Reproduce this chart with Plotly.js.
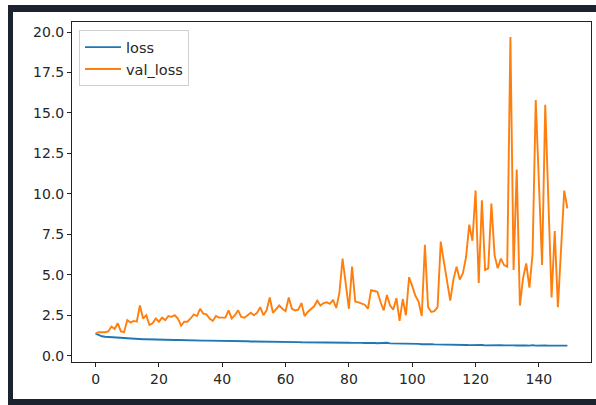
<!DOCTYPE html>
<html>
<head>
<meta charset="utf-8">
<script src="https://cdn.plot.ly/plotly-3.0.1.min.js"></script>
<style>
  html, body { margin: 0; padding: 0; background: #ffffff; }
  #frame { position: absolute; left: 8px; top: 5px; width: 588px; height: 400px; background: #1b242e; }
  #inner { position: absolute; left: 13px; top: 12px; width: 583px; height: 387px; background: #ffffff; }
  #plot { position: absolute; left: 0; top: 0; width: 596px; height: 405px; }
</style>
</head>
<body>
<div id="frame"></div>
<div id="inner"></div>
<div id="plot"></div>
<script>
// Epoch indices 0..149
const epochs = Array.from({length: 150}, (_, i) => i);

const loss = [
  1.36, 1.26, 1.20, 1.17, 1.15, 1.14, 1.13, 1.12, 1.10, 1.09,
  1.08, 1.06, 1.05, 1.04, 1.03, 1.02, 1.02, 1.01, 1.00, 1.00,
  0.99, 0.99, 0.98, 0.98, 0.97, 0.97, 0.97, 0.96, 0.96, 0.95,
  0.95, 0.95, 0.94, 0.94, 0.93, 0.93, 0.93, 0.92, 0.92, 0.92,
  0.91, 0.91, 0.91, 0.90, 0.90, 0.90, 0.89, 0.89, 0.89, 0.88,
  0.88, 0.88, 0.87, 0.87, 0.87, 0.86, 0.86, 0.86, 0.86, 0.85,
  0.85, 0.85, 0.84, 0.84, 0.84, 0.83, 0.83, 0.84, 0.83, 0.82,
  0.83, 0.82, 0.82, 0.81, 0.82, 0.81, 0.81, 0.80, 0.81, 0.80,
  0.80, 0.79, 0.80, 0.79, 0.79, 0.78, 0.79, 0.78, 0.78, 0.77,
  0.78, 0.77, 0.80, 0.76, 0.76, 0.75, 0.75, 0.74, 0.74, 0.73,
  0.73, 0.72, 0.73, 0.71, 0.72, 0.70, 0.71, 0.70, 0.70, 0.69,
  0.70, 0.68, 0.69, 0.67, 0.68, 0.66, 0.67, 0.66, 0.65, 0.66,
  0.65, 0.64, 0.66, 0.64, 0.65, 0.64, 0.65, 0.67, 0.65, 0.64,
  0.65, 0.63, 0.64, 0.63, 0.64, 0.63, 0.64, 0.62, 0.65, 0.62,
  0.64, 0.63, 0.64, 0.62, 0.63, 0.62, 0.63, 0.62, 0.62, 0.62
];

const valLoss = [
  1.38, 1.45, 1.45, 1.45, 1.50, 1.80, 1.65, 2.00, 1.50, 1.45,
  2.20, 2.05, 2.15, 2.10, 3.10, 2.30, 2.50, 1.90, 2.00, 2.30,
  2.10, 2.35, 2.20, 2.45, 2.40, 2.50, 2.30, 1.85, 2.10, 2.10,
  2.30, 2.55, 2.45, 2.90, 2.60, 2.55, 2.30, 2.15, 2.45, 2.35,
  2.35, 2.35, 2.80, 2.30, 2.50, 2.80, 2.40, 2.35, 2.50, 2.65,
  2.50, 2.65, 3.00, 2.50, 2.80, 3.60, 2.65, 2.90, 3.10, 2.90,
  2.75, 3.60, 2.90, 2.80, 2.85, 3.25, 2.45, 2.70, 2.85, 3.05,
  3.40, 3.10, 3.25, 3.30, 3.20, 3.45, 2.95, 3.90, 6.00, 4.40,
  2.90, 5.50, 3.35, 3.30, 3.20, 3.15, 2.90, 4.05, 4.00, 3.95,
  3.30, 2.80, 3.75, 3.10, 2.85, 3.55, 2.15, 3.50, 2.50, 4.85,
  4.30, 3.70, 3.35, 2.45, 6.85, 3.00, 2.70, 2.75, 3.00, 7.05,
  5.80, 4.50, 3.40, 4.70, 5.50, 4.70, 5.10, 6.10, 8.10, 7.10,
  10.20, 4.50, 9.60, 5.30, 5.40, 9.40, 6.20, 5.40, 6.00, 5.60,
  5.50, 19.70, 5.30, 11.50, 3.10, 4.80, 5.70, 4.20, 6.30, 15.80,
  10.70, 5.60, 15.50, 9.50, 3.60, 7.70, 3.00, 6.60, 10.20, 9.10
];

const xTicks = [0, 20, 40, 60, 80, 100, 120, 140];
const yTicks = [0.0, 2.5, 5.0, 7.5, 10.0, 12.5, 15.0, 17.5, 20.0];
const yTickLabels = ['0.0', '2.5', '5.0', '7.5', '10.0', '12.5', '15.0', '17.5', '20.0'];

const traces = [
  {x: epochs, y: loss, type: 'scatter', mode: 'lines', name: 'loss',
   legendgroup: 'a', line: {color: '#1f77b4', width: 1.9}},
  {x: epochs, y: valLoss, type: 'scatter', mode: 'lines', name: 'val_loss',
   legendgroup: 'b', line: {color: '#ff7f0e', width: 1.9}}
];

const axisCommon = {
  showline: true, mirror: true, linecolor: '#222', linewidth: 1,
  showgrid: false, zeroline: false,
  ticks: 'outside', ticklen: 4, tickwidth: 1, tickcolor: '#222',
  tickfont: {family: 'DejaVu Sans, sans-serif', size: 14, color: '#262626'}
};

const layout = {
  width: 596, height: 405,
  margin: {l: 72, r: 5, t: 22, b: 43},
  paper_bgcolor: 'rgba(0,0,0,0)',
  plot_bgcolor: '#ffffff',
  showlegend: true,
  legend: {
    x: 0.0135, y: 0.976, xanchor: 'left', yanchor: 'top',
    bgcolor: 'rgba(255,255,255,0.85)', bordercolor: '#d0d0d0', borderwidth: 1,
    font: {family: 'DejaVu Sans, sans-serif', size: 14.5, color: '#262626'},
    tracegroupgap: 3, traceorder: 'normal', itemwidth: 36
  },
  xaxis: Object.assign({}, axisCommon, {
    range: [-7.45, 156.45], tickvals: xTicks, ticktext: xTicks.map(String)
  }),
  yaxis: Object.assign({}, axisCommon, {
    range: [-0.39, 20.62], tickvals: yTicks, ticktext: yTickLabels
  })
};

Plotly.newPlot('plot', traces, layout, {displayModeBar: false, staticPlot: true});
</script>
</body>
</html>
